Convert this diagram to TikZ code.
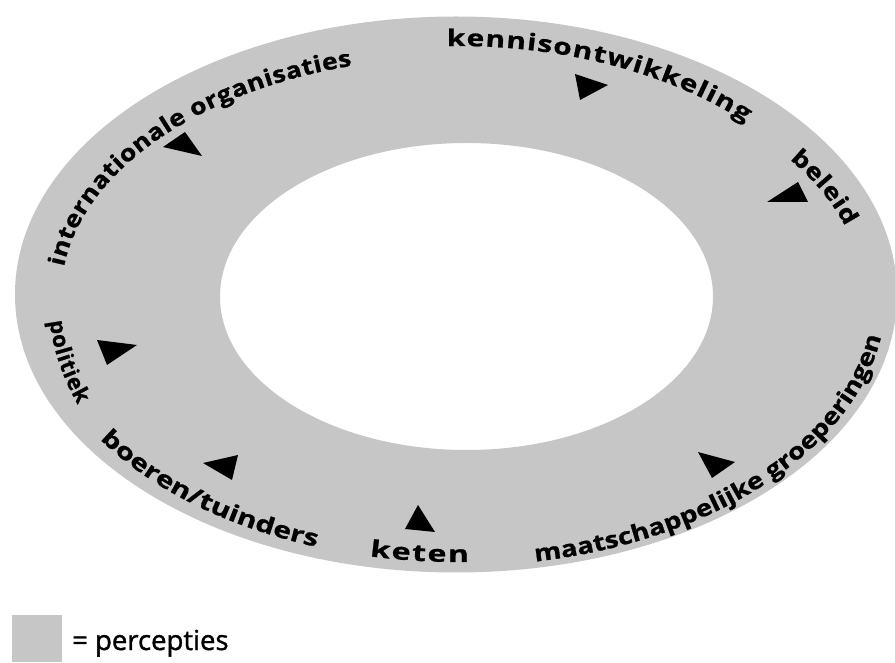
\documentclass[tikz,border=0pt]{standalone}
\usepackage{fontspec}
\setmainfont{Open Sans}
\newfontfamily\legendfont{Open Sans}[FakeBold=1.3]
\newfontfamily\rfA{Open Sans}[FakeStretch=1.15, BoldFeatures={FakeStretch=1.15, FakeBold=1}]
\newfontfamily\rfB{Open Sans}[FakeStretch=1.2, BoldFeatures={FakeStretch=1.2, FakeBold=1}]
\newfontfamily\rfC{Open Sans}[FakeStretch=1.3, BoldFeatures={FakeStretch=1.3, FakeBold=1}]
\newfontfamily\rfD{Open Sans}[FakeStretch=1.4, BoldFeatures={FakeStretch=1.4, FakeBold=1}]
\newfontfamily\rfN{Open Sans}[BoldFeatures={FakeBold=1}]
\usetikzlibrary{decorations.text}
\definecolor{ringgray}{RGB}{198,198,198}
\tikzset{
  ringlabel/.style={decorate, decoration={text along path, text align=fit to path, text={#1}}},
  marker/.style={fill=black}
}
\newcommand{\lsz}{\bfseries\fontsize{23}{23}\selectfont}
\begin{document}
\begin{tikzpicture}[x=1pt,y=1pt]
\useasboundingbox (0,0) rectangle (895,662);
% ring
\fill[ringgray, even odd rule] (456,367.5) ellipse [x radius=441, y radius=278]
  (466.5,365.5) ellipse [x radius=246.5, y radius=153.5];
\coordinate (c) at (458,366);
% labels on the outer side (clockwise)
\path[ringlabel={|\rfA\lsz|internationale organisaties}] (c) ++(173:397 and 239) arc[start angle=173, end angle=105.5, x radius=397, y radius=239];
\path[ringlabel={|\rfC\lsz|kennisontwikkeling}] (c) ++(91.6:400 and 250) arc[start angle=91.6, end angle=44, x radius=400, y radius=250];
\path[ringlabel={|\rfB\lsz|beleid}] (c) ++(35:405 and 238) arc[start angle=35, end angle=17, x radius=405, y radius=238];
% labels on the lower side (counter-clockwise)
\path[ringlabel={|\rfB\lsz|maatschappelijke groeperingen}] (c) ++(-79.6:428 and 270) arc[start angle=-79.6, end angle=-9.5, x radius=428, y radius=270];
\path[ringlabel={|\rfD\lsz|keten}] (c) ++(-102:425 and 266) arc[start angle=-102, end angle=-88.5, x radius=425, y radius=266];
\path[ringlabel={|\rfC\lsz|boeren/tuinders}] (c) ++(-147.4:425 and 266) arc[start angle=-147.4, end angle=-110, x radius=425, y radius=266];
\path[ringlabel={|\rfN\bfseries\fontsize{22}{22}\selectfont|politiek}] (c) ++(-175:410 and 290) arc[start angle=-175, end angle=-158, x radius=410, y radius=290];
% markers
\fill[marker] (185,530) -- (163,515) -- (202,506) -- cycle;
\fill[marker] (575,588) -- (580,562) -- (608,577) -- cycle;
\fill[marker] (767,460) -- (798,480) -- (808,460) -- cycle;
\fill[marker] (698,210) -- (735,200) -- (712,184) -- cycle;
\fill[marker] (405,133) -- (418,157) -- (435,130) -- cycle;
\fill[marker] (203,199) -- (238,207) -- (232,182) -- cycle;
\fill[marker] (97,322) -- (137,317) -- (107,297) -- cycle;
% legend
\fill[ringgray] (12,0) rectangle (62,47);
\node[anchor=base west, inner sep=0pt, font=\legendfont\fontsize{27.5}{27.5}\selectfont] (leg) at (72,12) {= percepties};
\end{tikzpicture}
\end{document}
